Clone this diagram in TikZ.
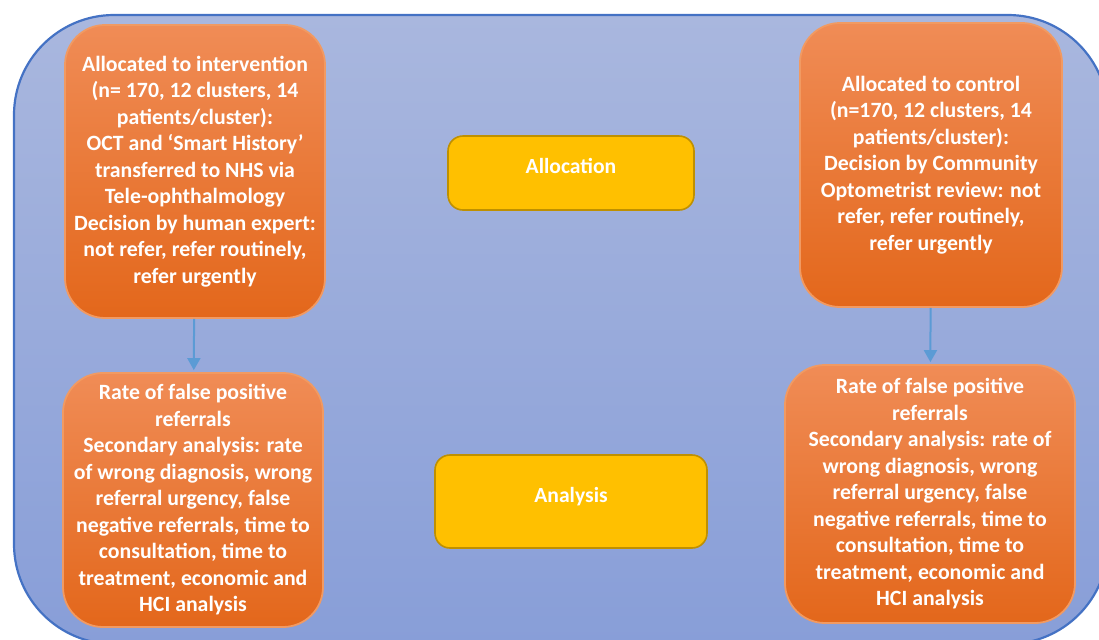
\documentclass[tikz,border=0pt]{standalone}
\usepackage{fontspec}
\setmainfont{Carlito}
\usepackage{tikz}
\usetikzlibrary{positioning,arrows.meta}

\definecolor{bgtop}{HTML}{A9B7DE}
\definecolor{bgbot}{HTML}{889ED8}
\definecolor{bgline}{HTML}{4472C4}
\definecolor{ortop}{HTML}{F08C56}
\definecolor{orbot}{HTML}{E3671B}
\definecolor{orline}{HTML}{F19A62}
\definecolor{ylfill}{HTML}{FFC000}
\definecolor{ylline}{HTML}{BF9000}
\definecolor{arrcol}{HTML}{5B9BD5}

\begin{document}
\begin{tikzpicture}[x=0.5pt,y=-0.5pt,->,>={Triangle[length=6pt,width=6.5pt]},
                    shorten >=1pt,line width=1pt]
  \tikzstyle{arm}=[rounded corners=20pt,top color=ortop,bottom color=orbot,
                   draw=orline,line width=0.9pt,text=white,align=center,
                   inner sep=0pt,font=\bfseries\fontsize{10.9}{13.25}\selectfont]
  \tikzstyle{phase}=[rounded corners=7.5pt,fill=ylfill,draw=ylline,
                     line width=0.8pt,text=white,align=center,
                     text height=7.5pt,text depth=7pt,
                     font=\bfseries\fontsize{10.8}{13}\selectfont]

  \useasboundingbox (0,0) rectangle (1099,639);
  \begin{scope}[-]
    \clip (0,0) rectangle (1099,639);
    \path[top color=bgtop,bottom color=bgbot,draw=bgline,line width=1.1pt,
          rounded corners=50pt] (14,15) rectangle (1108,644);
  \end{scope}

  \node[arm,minimum width=130pt,minimum height=146.5pt] (intv) at (195,171.5)
    {Allocated to intervention\\(n= 170, 12 clusters, 14\\patients/cluster):\\
     OCT and `Smart History'\\transferred to NHS via\\Tele-ophthalmology\\
     Decision by human expert:\\not refer, refer routinely,\\refer urgently};
  \node[arm,minimum width=131pt,minimum height=142pt] (ctrl) at (931,165)
    {Allocated to control\\(n=170, 12 clusters, 14\\patients/cluster):\\
     Decision by Community\\Optometrist review: not\\refer, refer routinely,\\
     refer urgently};
  \node[arm,minimum width=130pt,minimum height=127pt] (resA) at (193,500)
    {Rate of false positive\\referrals\\Secondary analysis: rate\\
     of wrong diagnosis, wrong\\referral urgency, false\\
     negative referrals, time to\\consultation, time to\\
     treatment, economic and\\HCI analysis};
  \node[arm,minimum width=145pt,minimum height=129pt] (resB) at (930,494)
    {Rate of false positive\\referrals\\Secondary analysis: rate of\\
     wrong diagnosis, wrong\\referral urgency, false\\
     negative referrals, time to\\consultation, time to\\
     treatment, economic and\\HCI analysis};

  \node[phase,minimum width=123pt,minimum height=37pt] (alloc) at (571,173) {Allocation};
  \node[phase,minimum width=136pt,minimum height=46.5pt] (anal) at (571,501.5) {Analysis};

  \draw[arrcol] (intv) -- (resA);
  \draw[arrcol] (ctrl) -- (resB);
\end{tikzpicture}
\end{document}
